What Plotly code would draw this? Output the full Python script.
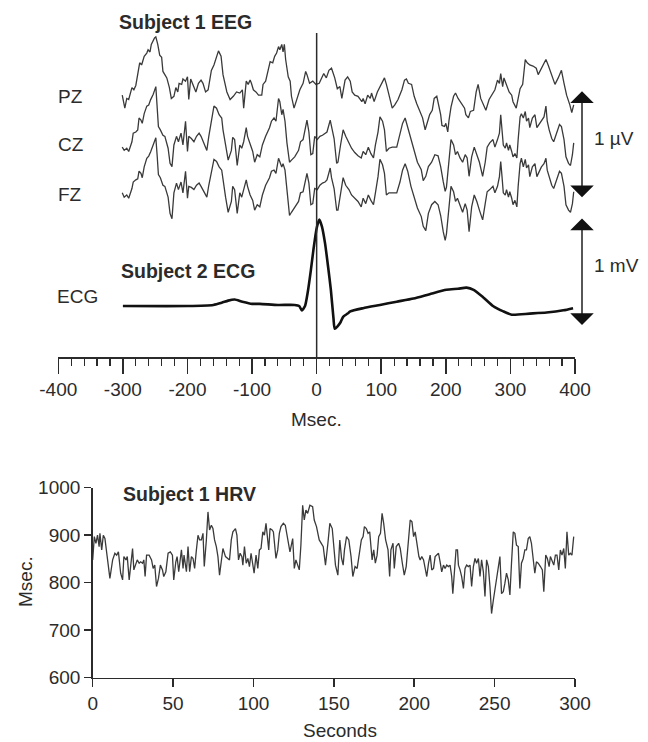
import plotly.graph_objects as go

# ---------------- data ----------------
# EEG, subject 1 (µV, relative), time in ms
pz_ms = [-301,-297,-294,-291,-286,-283,-280,-276,-274,-271,
         -267,-263,-261,-258,-256,-251,-249,-246,-243,-240,
         -238,-232,-228,-225,-221,-218,-215,-213,-209,-207,
         -203,-200,-198,-195,-191,-187,-183,-179,-176,-172,
         -168,-163,-159,-155,-152,-148,-145,-139,-134,-129,
         -124,-119,-115,-113,-109,-106,-103,-101,-98,-94,
         -90,-85,-83,-79,-75,-72,-68,-65,-62,-59,
         -57,-54,-52,-50,-48,-44,-41,-39,-35,-31,
         -26,-21,-17,-15,-11,-6,-1,4,8,11,
         15,19,23,28,32,36,39,44,48,52,
         55,59,64,70,72,75,79,83,85,89,
         94,100,105,108,112,117,121,126,132,136,
         139,142,147,151,155,160,164,168,172,175,
         179,182,186,188,192,194,198,200,203,205,
         208,212,215,219,225,229,231,235,238,243,
         247,250,254,258,262,267,273,276,280,283,
         285,288,290,294,298,302,304,309,312,315,
         319,323,326,330,335,340,343,348,355,359,
         364,369,374,379,383,387,392,395,398]
pz_uv = [-0.03,-0.15,-0.06,-0.07,0.04,0.02,0.06,0.18,0.27,0.25,
         0.33,0.36,0.39,0.37,0.44,0.50,0.51,0.44,0.34,0.32,
         0.19,0.13,0.04,-0.06,-0.04,0.04,0.00,0.08,0.07,0.12,
         0.10,0.14,-0.07,0.12,0.05,0.00,0.08,0.11,0.08,0.00,
         0.02,0.20,0.25,0.33,0.38,0.33,0.16,0.00,-0.07,-0.04,
         0.00,-0.01,0.02,-0.15,0.10,0.07,0.11,0.08,0.02,0.00,
         -0.03,-0.03,0.07,0.10,0.20,0.28,0.27,0.33,0.36,0.42,
         0.39,0.44,0.37,0.44,0.30,0.14,0.10,-0.04,-0.15,-0.07,
         0.02,0.08,0.19,0.16,0.08,0.10,0.07,0.08,0.14,0.17,
         0.13,0.20,0.22,0.13,0.03,0.05,-0.06,0.11,0.14,0.10,
         0.00,-0.03,-0.04,-0.09,-0.06,-0.11,-0.03,-0.06,-0.01,-0.09,
         0.00,0.08,0.13,0.07,-0.04,-0.15,-0.12,-0.07,0.02,0.11,
         0.12,0.08,0.07,-0.04,-0.11,-0.18,-0.24,-0.35,-0.26,-0.21,
         -0.17,-0.06,-0.04,-0.09,-0.21,-0.31,-0.32,-0.29,-0.37,-0.26,
         -0.14,-0.04,-0.01,-0.06,-0.12,-0.15,-0.21,-0.24,-0.18,-0.17,
         0.00,0.07,-0.06,-0.11,-0.17,-0.07,0.00,0.02,0.11,0.08,
         0.17,0.05,0.13,0.07,0.00,-0.03,-0.09,-0.15,-0.04,0.03,
         0.07,0.30,0.27,0.25,0.24,0.22,0.16,0.22,0.30,0.24,
         0.16,0.07,0.13,0.20,0.08,-0.03,-0.12,-0.19,-0.12]

eeg_ms = [-301,-298,-294,-291,-286,-284,-280,-277,-275,-272,
          -270,-267,-263,-260,-257,-253,-249,-247,-245,-242,
          -238,-235,-230,-227,-224,-221,-217,-214,-210,-207,
          -203,-200,-198,-194,-190,-186,-182,-179,-176,-173,
          -170,-167,-163,-159,-155,-151,-147,-145,-141,-137,
          -132,-130,-127,-123,-119,-116,-113,-109,-107,-103,
          -99,-96,-92,-88,-84,-79,-73,-70,-66,-63,
          -59,-57,-54,-52,-49,-46,-42,-39,-34,-28,
          -25,-21,-15,-12,-9,-6,-3,1,5,9,
          13,16,21,23,27,31,33,37,41,45,
          50,54,59,64,69,72,76,80,84,88,
          91,95,98,102,105,108,112,117,124,129,
          133,137,141,146,151,156,162,165,169,173,
          178,183,188,192,196,199,201,205,208,212,
          215,218,222,226,230,233,236,240,244,248,
          252,257,261,264,268,273,276,280,283,285,
          287,289,292,294,297,299,302,304,307,310,
          312,315,317,320,323,325,328,330,334,338,
          341,345,348,352,355,357,360,364,367,372,
          376,379,383,386,390,393,396,398]
cz_uv = [-0.02,-0.05,-0.03,-0.06,0.03,0.11,0.12,0.14,0.25,0.23,
         0.20,0.29,0.36,0.37,0.42,0.47,0.54,0.39,0.17,0.14,
         0.09,0.08,-0.03,-0.17,-0.20,0.00,0.08,0.03,0.11,0.00,
         0.22,-0.06,0.08,0.06,0.03,0.08,0.11,0.08,0.03,0.00,
         -0.05,0.08,0.23,0.36,0.34,0.28,0.25,0.14,0.00,-0.14,
         -0.05,0.07,0.05,-0.19,0.00,-0.03,0.03,0.16,0.08,0.00,
         -0.06,-0.16,-0.09,-0.11,0.00,0.08,0.16,0.22,0.25,0.22,
         0.43,0.40,0.28,0.33,0.22,0.02,-0.16,-0.14,-0.11,-0.05,
         0.03,0.05,0.23,0.12,-0.09,-0.08,0.08,0.05,0.08,0.09,
         0.11,0.12,0.23,0.16,0.06,-0.17,-0.16,0.00,0.14,0.08,
         0.02,-0.03,-0.07,-0.10,-0.12,-0.06,-0.09,-0.02,-0.08,-0.12,
         0.00,0.12,0.26,0.22,0.14,-0.06,-0.03,-0.02,-0.02,0.11,
         0.20,0.25,0.16,0.05,-0.06,-0.16,-0.23,-0.33,-0.29,-0.20,
         -0.16,-0.09,-0.10,-0.20,-0.34,-0.43,-0.39,-0.11,0.05,0.00,
         -0.09,-0.06,-0.12,-0.16,-0.09,-0.12,-0.29,-0.11,-0.02,-0.09,
         -0.16,-0.29,-0.16,-0.02,0.02,0.05,-0.02,0.05,0.11,0.28,
         0.12,0.00,-0.03,0.02,-0.05,0.00,-0.06,-0.11,-0.08,-0.12,
         0.05,0.26,0.29,0.25,0.31,0.22,0.25,0.16,0.25,0.28,
         0.16,0.20,0.23,0.26,0.36,0.22,0.14,0.06,0.03,0.12,
         0.19,0.17,0.05,-0.11,-0.17,-0.19,-0.09,0.02]
fz_uv = [0.02,-0.02,0.00,-0.03,0.06,0.12,0.14,0.15,0.22,0.20,
         0.16,0.26,0.34,0.36,0.40,0.47,0.53,0.37,0.19,0.16,
         0.09,0.08,-0.02,-0.17,-0.22,0.02,0.11,0.05,0.12,0.02,
         0.22,-0.03,0.08,0.07,0.05,0.09,0.11,0.08,0.05,0.02,
         -0.02,0.09,0.23,0.33,0.31,0.26,0.23,0.14,-0.02,-0.16,
         -0.06,0.08,0.05,-0.17,0.02,-0.02,0.05,0.14,0.08,0.00,
         -0.05,-0.14,-0.09,-0.11,0.00,0.09,0.16,0.22,0.23,0.20,
         0.34,0.31,0.26,0.29,0.23,0.05,-0.19,-0.16,-0.11,-0.06,
         0.02,0.03,0.20,0.11,-0.09,-0.08,0.06,0.05,0.09,0.11,
         0.12,0.14,0.25,0.16,0.06,-0.14,-0.14,0.02,0.16,0.09,
         0.05,0.00,-0.03,-0.06,-0.11,-0.03,-0.08,0.00,-0.05,-0.09,
         0.02,0.17,0.33,0.28,0.20,0.00,0.02,0.02,0.02,0.12,
         0.23,0.29,0.22,0.08,-0.03,-0.12,-0.20,-0.29,-0.33,-0.17,
         -0.09,-0.06,-0.09,-0.19,-0.34,-0.42,-0.36,-0.06,0.08,0.03,
         -0.06,-0.03,-0.09,-0.16,-0.08,-0.14,-0.34,-0.11,0.00,-0.06,
         -0.14,-0.23,-0.08,0.03,0.05,0.08,0.02,0.08,0.17,0.31,
         0.17,0.02,0.00,0.05,-0.02,0.03,-0.03,-0.09,-0.05,-0.11,
         0.08,0.29,0.34,0.26,0.33,0.25,0.28,0.17,0.26,0.29,
         0.17,0.23,0.26,0.29,0.34,0.23,0.17,0.09,0.06,0.14,
         0.22,0.20,0.08,-0.09,-0.14,-0.16,-0.08,0.03]

# ECG, subject 2 (mV), time in ms
ecg_ms = [-300,-200,-160,-147,-137,-127,-115,-100,-88,-60,
          -34,-27,-23,-18,-14,-9,-5,0,4,8,
          13,18,22,26,28,32,37,41,48,52,
          72,98,124,150,175,201,219,232,243,258,
          273,289,302,330,356,382,397]
ecg_mv = [0.00,0.00,0.01,0.03,0.05,0.06,0.04,0.02,0.02,0.01,
          0.01,0.00,-0.04,0.00,0.12,0.33,0.52,0.72,0.80,0.74,
          0.58,0.35,0.15,-0.11,-0.21,-0.19,-0.15,-0.10,-0.07,-0.05,
          -0.02,0.01,0.04,0.07,0.11,0.15,0.16,0.17,0.15,0.08,
          0.00,-0.05,-0.08,-0.07,-0.06,-0.04,-0.02]

# HRV, subject 1: RR interval (ms) vs time (s)
hrv_s = [0,1,2,3,4,4.5,5.6,6.6,7.6,9,
         10.7,12.4,13.8,14.9,16,17.4,18.6,19.4,20.7,21.5,
         22.7,23.8,24.8,25.6,26.9,27.7,28.9,29.8,31,31.8,
         32.6,33.5,35.1,36.6,37.6,38.6,39.7,40.9,42.1,43.4,
         44.2,45.5,46.9,48.3,49.6,50.4,51.7,52.5,53.5,54.1,
         55.2,56.2,56.8,58.3,59.3,60.3,61.4,62.4,63.4,64.5,
         65.5,66.5,67.6,68.6,69.4,70.7,71.7,72.7,73.8,74.8,
         75.8,76.9,77.9,78.9,80,81,82.6,84.1,85.1,86.2,
         87.2,88.8,89.7,90.7,91.7,92.8,93.4,94.4,95.5,96.5,
         97.5,98.5,99.6,100.4,101.6,102.7,103.7,104.7,105.8,106.8,
         107.8,108.9,109.5,110.3,111.6,112.4,114,115.1,116.1,117.1,
         118.6,119.8,121.3,122.7,124.4,125.4,126.4,127.5,128.5,129.5,
         130.6,131.6,132.6,133.7,135.1,136.8,137.8,139.2,140.9,143.4,
         144.8,146.3,147.5,149,150,151,152.5,153.7,154.8,155.8,
         156.6,157.9,159.3,160.7,161.8,163.2,164.5,166.1,167.1,168.2,
         169,170.2,171.3,172.3,173.8,174.8,175.8,176.9,177.9,179,
         180,181,182.2,183.7,184.7,185.5,186.8,187.6,188.8,190.3,
         191.3,192.6,193.8,195,196.5,197.5,198.6,199.6,200.6,201.7,
         202.9,203.7,204.7,205.8,206.8,207.8,208.9,209.9,210.9,212,
         213,214,215.1,216.1,217.1,218.2,219.2,220.2,221.3,222.3,
         223.3,224,224.8,226,226.9,227.5,228.5,229.5,230.6,231.6,
         232.6,233.7,234.7,235.7,236.8,237.8,238.8,239.9,240.9,241.9,
         243,244,245,246.1,247.1,248.1,249.2,250.2,251.2,252.3,
         253.3,254.3,255.4,256.4,257.4,258.5,259.5,260.5,261.6,262.6,
         263.6,264.7,265.7,266.7,267.8,268.8,269.8,270.9,271.9,272.9,
         274,275,276,277.1,278.5,279.7,280.6,281.8,282.8,283.9,
         284.7,285.7,286.8,287.8,288.8,289.9,290.9,291.9,293,294,
         295,296.1,297.1,298.1,299.2]
hrv_ms = [848,897,883,900,876,904,869,900,893,855,
          809,848,862,858,865,820,806,855,848,855,
          806,841,872,827,841,848,841,844,841,848,
          813,858,858,848,830,837,792,809,837,827,
          813,823,862,865,858,806,844,855,823,837,
          869,830,858,823,876,823,855,851,830,869,
          900,890,890,904,834,890,949,911,921,914,
          890,876,855,816,848,872,855,851,848,890,
          907,914,900,848,862,855,837,876,841,851,
          834,862,834,820,858,830,869,872,907,900,
          925,890,869,914,911,907,851,869,904,918,
          925,921,890,865,893,830,848,834,827,879,
          963,932,953,946,963,960,932,918,890,876,
          837,883,925,914,876,837,816,890,851,837,
          869,897,890,855,813,834,830,869,890,897,
          918,914,904,907,848,869,841,858,897,904,
          946,925,890,869,813,869,883,830,876,883,
          872,841,816,834,890,932,928,897,907,876,
          855,848,855,848,827,813,841,858,827,830,
          855,858,862,844,823,837,830,837,834,837,
          813,777,823,869,869,837,827,813,788,830,
          837,834,837,792,834,851,841,851,813,848,
          823,771,848,834,792,735,763,785,813,837,
          855,777,781,799,820,806,774,841,907,904,
          879,876,788,841,851,869,869,893,897,883,
          855,820,844,841,834,827,781,858,851,834,
          855,848,837,858,858,827,869,858,872,830,
          907,858,862,858,897]

# tick labels
top_ticks = [-400, -300, -200, -100, 0, 100, 200, 300, 400]
hrv_x_ticks = [0, 50, 100, 150, 200, 250, 300]
hrv_y_ticks = [600, 700, 800, 900, 1000]

# ---------------- layout helpers ----------------
W, H = 648, 742
def fx(p):
    return p / W
def fy(p):
    return 1 - p / H

FONT = "Liberation Sans, Arial, sans-serif"
INK = "#2b2b2b"
TRACE = "#3a3a3a"

# vertical offsets of the stacked traces (display units; 1 unit = 1 µV = 1 mV)
PZ_OFF, CZ_OFF, FZ_OFF, ECG_OFF = 2.454, 1.963, 1.50, 0.472
TOP_RANGE = [0, 3.259]

def clip(a, b):
    n = min(len(a), len(b))
    return a[:n], b[:n]

fig = go.Figure()

x, y = clip(pz_ms, pz_uv)
fig.add_trace(go.Scatter(x=x, y=[v + PZ_OFF for v in y], mode="lines",
                         line=dict(color=TRACE, width=1.3), xaxis="x", yaxis="y"))
x, y = clip(eeg_ms, cz_uv)
fig.add_trace(go.Scatter(x=x, y=[v + CZ_OFF for v in y], mode="lines",
                         line=dict(color=TRACE, width=1.3), xaxis="x", yaxis="y"))
x, y = clip(eeg_ms, fz_uv)
fig.add_trace(go.Scatter(x=x, y=[v + FZ_OFF for v in y], mode="lines",
                         line=dict(color=TRACE, width=1.3), xaxis="x", yaxis="y"))
x, y = clip(ecg_ms, ecg_mv)
fig.add_trace(go.Scatter(x=x, y=[v + ECG_OFF for v in y], mode="lines",
                         line=dict(color="#111111", width=2.6, shape="spline", smoothing=0.6),
                         xaxis="x", yaxis="y"))
x, y = clip(hrv_s, hrv_ms)
fig.add_trace(go.Scatter(x=x, y=y, mode="lines",
                         line=dict(color=TRACE, width=1.3), xaxis="x2", yaxis="y2"))

# vertical line at time 0
fig.add_shape(type="line", xref="x", yref="y", x0=0, x1=0, y0=TOP_RANGE[0], y1=3.0,
              line=dict(color=INK, width=1.5))

tickfont = dict(family=FONT, size=19, color=INK)

fig.update_layout(
    width=W, height=H,
    margin=dict(l=0, r=0, t=0, b=0, autoexpand=False),
    paper_bgcolor="white", plot_bgcolor="white",
    showlegend=False,
    font=dict(family=FONT, size=19, color=INK),
    xaxis=dict(domain=[fx(58.3), fx(575)], range=[-400, 400], anchor="y",
               automargin=False,
               showline=True, linecolor=INK, linewidth=1.5,
               ticks="outside", ticklen=15, tickwidth=1.5, tickcolor=INK,
               tickvals=top_ticks, ticktext=[str(t) for t in top_ticks],
               tickfont=tickfont, showgrid=False, zeroline=False,
               minor=dict(dtick=20, tick0=0, ticks="outside", ticklen=7,
                          tickwidth=1.2, tickcolor=INK, showgrid=False)),
    yaxis=dict(domain=[fy(357), fy(5)], range=TOP_RANGE, anchor="x",
               visible=False, automargin=False),
    xaxis2=dict(domain=[fx(92.7), fx(575)], range=[0, 300], anchor="y2",
                automargin=False,
                showline=True, linecolor=INK, linewidth=1.5,
                ticks="outside", ticklen=8, tickwidth=1.5, tickcolor=INK,
                tickvals=hrv_x_ticks, tickfont=tickfont,
                showgrid=False, zeroline=False),
    yaxis2=dict(domain=[fy(677.7), fy(487.7)], range=[600, 1000], anchor="x2",
                automargin=False,
                showline=True, linecolor=INK, linewidth=1.5,
                ticks="outside", ticklen=7, tickwidth=1.5, tickcolor=INK,
                tickvals=hrv_y_ticks, tickfont=tickfont,
                showgrid=False, zeroline=False),
)

def label(text, x, y, size=19, bold=False, anchor="left", angle=0):
    fig.add_annotation(text=("<b>%s</b>" % text) if bold else text,
                       x=fx(x), y=fy(y), xref="paper", yref="paper",
                       xanchor=anchor, yanchor="middle", showarrow=False,
                       textangle=angle,
                       font=dict(family=FONT, size=size, color=INK))

label("Subject 1 EEG", 117, 22, size=19.5, bold=True)
label("PZ", 56, 96)
label("CZ", 56, 144)
label("FZ", 56, 194)
label("Subject 2 ECG", 119, 271, size=19.5, bold=True)
label("ECG", 55, 296)
label("Subject 1 HRV", 121, 494, size=19.5, bold=True)
label("1 µV", 592, 138)
label("1 mV", 592, 265)
# axis titles
label("Msec.", 316.7, 419, anchor="center")
label("Seconds", 340, 730, anchor="center")
label("Msec.", 25, 582, anchor="center", angle=-90)

# scale bars (double-headed arrows)
for y0, y1 in [(FZ_OFF - 0.02, PZ_OFF + 0.02), (ECG_OFF - 0.176, ECG_OFF + 0.824)]:
    fig.add_annotation(x=fx(582), xref="paper", y=y0, yref="y",
                       ax=0, axref="pixel", ay=y1, ayref="y",
                       text="", showarrow=True, arrowside="end+start",
                       arrowhead=1, arrowsize=2.8, arrowwidth=1.4, arrowcolor="#111111",
                       standoff=0, startstandoff=0)

fig.write_html("out.html",
               config={"displayModeBar": False, "staticPlot": True},
               post_script="document.body.style.margin='0';"
                           "document.body.style.padding='0';"
                           "document.body.style.overflow='hidden';")
